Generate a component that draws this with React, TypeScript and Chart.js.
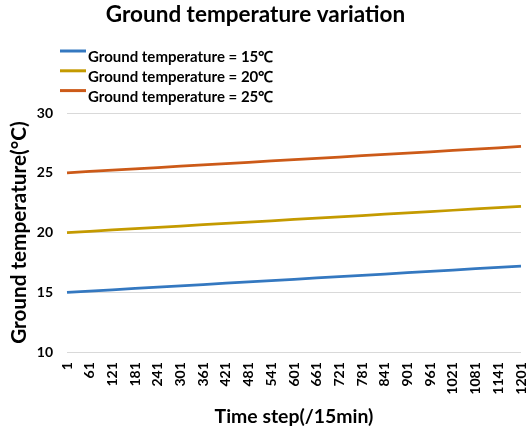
import React, { useEffect, useRef } from "react";
import { Chart, registerables } from "chart.js";

Chart.register(...registerables);

const TITLE = "Ground temperature variation";
const X_TITLE = "Time step(/15min)";
const Y_TITLE = "Ground temperature(°C)";

const TIME_STEPS = [
  "1", "61", "121", "181", "241", "301", "361", "421", "481", "541", "601",
  "661", "721", "781", "841", "901", "961", "1021", "1081", "1141", "1201",
];

const SERIES_LABELS = [
  "Ground temperature = 15℃",
  "Ground temperature = 20℃",
  "Ground temperature = 25℃",
];

const T15 = [
  15.0, 15.11, 15.22, 15.33, 15.44, 15.55, 15.66, 15.77, 15.88, 15.99, 16.1,
  16.21, 16.32, 16.43, 16.54, 16.65, 16.76, 16.87, 16.98, 17.09, 17.2,
];
const T20 = [
  20.0, 20.11, 20.22, 20.33, 20.44, 20.55, 20.66, 20.77, 20.88, 20.99, 21.1,
  21.21, 21.32, 21.43, 21.54, 21.65, 21.76, 21.87, 21.98, 22.09, 22.2,
];
const T25 = [
  25.0, 25.11, 25.22, 25.33, 25.44, 25.55, 25.66, 25.77, 25.88, 25.99, 26.1,
  26.21, 26.32, 26.43, 26.54, 26.65, 26.76, 26.87, 26.98, 27.09, 27.2,
];

const Y_MIN = 10;
const Y_MAX = 30;
const Y_STEP = 5;

const COLORS = ["#3478c0", "#c49a00", "#cc5a18"];
const FONT = "Lato, 'Open Sans', sans-serif";

const headerPlugin = {
  id: "headerLegend",
  afterDraw(chart: any) {
    const ctx = chart.ctx as CanvasRenderingContext2D;
    ctx.save();
    ctx.fillStyle = "#000";
    ctx.font = `bold 22.5px ${FONT}`;
    ctx.textAlign = "center";
    ctx.textBaseline = "middle";
    ctx.fillText(TITLE, 255.5, 15);
    chart.data.datasets.forEach((ds: any, i: number) => {
      const y = 51 + i * 19.8;
      ctx.strokeStyle = ds.borderColor;
      ctx.lineWidth = 3;
      ctx.beginPath();
      ctx.moveTo(60, y);
      ctx.lineTo(86, y);
      ctx.stroke();
      ctx.font = `bold 15px ${FONT}`;
      ctx.textAlign = "left";
      ctx.textBaseline = "middle";
      ctx.fillStyle = "#000";
      ctx.fillText(ds.label, 88, y + 6.5);
    });
    ctx.restore();
  },
};

export default function App() {
  const ref = useRef<HTMLCanvasElement | null>(null);

  useEffect(() => {
    document.body.style.margin = "0";
    const series = [T15, T20, T25];
    const chart = new Chart(ref.current as HTMLCanvasElement, {
      type: "line",
      data: {
        labels: TIME_STEPS,
        datasets: series.map((d, i) => ({
          label: SERIES_LABELS[i],
          data: d,
          borderColor: COLORS[i],
          backgroundColor: COLORS[i],
          borderWidth: 2.75,
          pointRadius: 0,
          tension: 0,
          fill: false,
        })),
      },
      options: {
        animation: false,
        responsive: true,
        maintainAspectRatio: false,
        layout: { padding: { top: 113, left: 0, right: 0, bottom: 0 } },
        plugins: {
          legend: { display: false },
          title: { display: false },
          tooltip: { enabled: false },
        },
        scales: {
          x: {
            type: "category",
            offset: false,
            grid: { display: false, drawTicks: false },
            border: { display: false },
            ticks: {
              autoSkip: false,
              maxRotation: 90,
              minRotation: 90,
              padding: 10,
              color: "#000",
              font: { family: FONT, size: 14, weight: "bold" },
            },
            title: {
              display: true,
              text: X_TITLE,
              color: "#000",
              font: { family: FONT, size: 19.4, weight: "bold" },
              padding: { top: 0, bottom: 4 },
            },
            afterFit: (s: any) => {
              s.paddingRight = 5;
              s.paddingLeft = 0;
            },
          },
          y: {
            min: Y_MIN,
            max: Y_MAX,
            grid: { color: "#d9d9d9", drawTicks: false, lineWidth: 1 },
            border: { display: false },
            ticks: {
              stepSize: Y_STEP,
              padding: 14,
              color: "#000",
              font: { family: FONT, size: 14, weight: "bold" },
            },
            title: {
              display: true,
              text: Y_TITLE,
              color: "#000",
              font: { family: FONT, size: 20.7, weight: "bold" },
              padding: { top: 7, bottom: 6 },
            },
            afterFit: (s: any) => {
              s.width = 67;
            },
          },
        },
      },
      plugins: [headerPlugin],
    } as any);
    return () => chart.destroy();
  }, []);

  return (
    <div style={{ width: 526, height: 432, position: "relative" }}>
      <canvas ref={ref} />
    </div>
  );
}
